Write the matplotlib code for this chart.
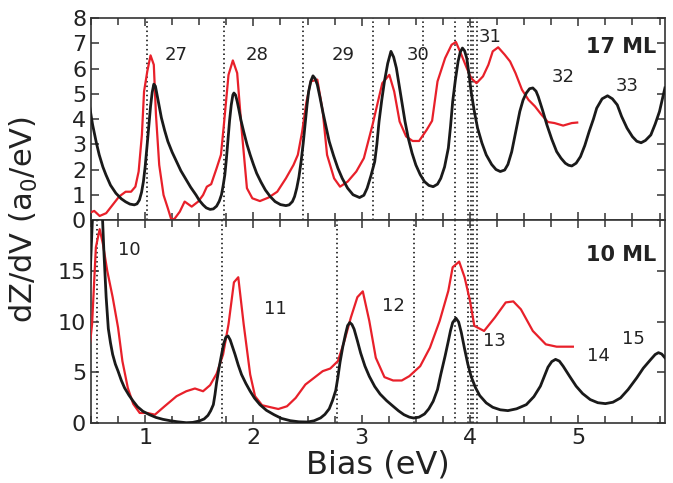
import matplotlib.pyplot as plt
import numpy as np

# 17 ML (top panel)
bias_17_calc = [0.48, 0.515, 0.55, 0.576, 0.61, 0.638, 0.68, 0.73, 0.78, 0.82, 0.86, 0.90, 0.925,
                0.947, 0.967, 0.984, 1.00, 1.017, 1.034, 1.05, 1.065, 1.08, 1.095, 1.11, 1.13,
                1.15, 1.18, 1.21, 1.25, 1.29, 1.33, 1.38, 1.42, 1.47, 1.50, 1.535, 1.565, 1.60,
                1.63, 1.66, 1.685, 1.705, 1.72, 1.736, 1.75, 1.765, 1.78, 1.795, 1.81, 1.82,
                1.835, 1.85, 1.863, 1.885, 1.91, 1.94, 1.97, 2.00, 2.03, 2.07, 2.11, 2.155,
                2.20, 2.25, 2.30, 2.33, 2.36, 2.38, 2.40, 2.42, 2.44, 2.46, 2.48, 2.495, 2.51,
                2.53, 2.55, 2.57, 2.59, 2.615, 2.64, 2.67, 2.70, 2.74, 2.78, 2.82, 2.87, 2.92,
                2.98, 3.02, 3.05, 3.085, 3.12, 3.14, 3.16, 3.185, 3.21, 3.24, 3.27, 3.295, 3.32,
                3.345, 3.37, 3.40, 3.43, 3.465, 3.50, 3.54, 3.58, 3.62, 3.66, 3.70, 3.73, 3.765,
                3.80, 3.82, 3.84, 3.865, 3.89, 3.91, 3.93, 3.95, 3.97, 3.99, 4.01, 4.04, 4.07,
                4.11, 4.15, 4.20, 4.24, 4.28, 4.32, 4.35, 4.385, 4.42, 4.46, 4.49, 4.52, 4.55,
                4.58, 4.61, 4.63, 4.67, 4.71, 4.755, 4.80, 4.84, 4.88, 4.91, 4.94, 4.98, 5.02,
                5.06, 5.10, 5.14, 5.17, 5.22, 5.27, 5.315, 5.36, 5.40, 5.45, 5.50, 5.54, 5.58,
                5.62, 5.67, 5.71, 5.75, 5.80]
dzdv_17_calc = [4.69, 3.77, 3.05, 2.58, 2.10, 1.79, 1.38, 1.06, 0.84, 0.72, 0.63, 0.60, 0.64,
                0.79, 1.10, 1.52, 2.10, 2.90, 3.75, 4.50, 5.05, 5.38, 5.30, 4.96, 4.50,
                4.05, 3.55, 3.11, 2.68, 2.31, 1.95, 1.59, 1.30, 0.99, 0.78, 0.60, 0.48, 0.42,
                0.44, 0.55, 0.75, 1.00, 1.35, 1.79, 2.40, 3.20, 3.95, 4.55, 4.95, 5.03,
                4.95, 4.70, 4.43, 3.95, 3.50, 3.00, 2.58, 2.20, 1.85, 1.50, 1.19, 0.93,
                0.73, 0.61, 0.57, 0.60, 0.73, 0.93, 1.26, 1.70, 2.31, 3.05, 3.90, 4.55, 5.09,
                5.50, 5.71, 5.60, 5.36, 4.85, 4.30, 3.70, 3.11, 2.55, 2.05, 1.65, 1.26, 1.00,
                0.89, 0.98, 1.26, 1.75, 2.31, 3.00, 3.90, 4.75, 5.49, 6.20, 6.68, 6.45, 6.02,
                5.35, 4.69, 3.90, 3.24, 2.65, 2.18, 1.80, 1.52, 1.37, 1.32, 1.42, 1.65, 2.10,
                2.85, 3.70, 4.69, 5.55, 6.28, 6.65, 6.81, 6.70, 6.41, 5.80, 5.09, 4.30, 3.64,
                3.05, 2.58, 2.20, 2.00, 1.92, 1.98, 2.20, 2.70, 3.45, 4.30, 4.75, 5.03, 5.20,
                5.23, 5.10, 4.89, 4.35, 3.77, 3.20, 2.71, 2.45, 2.25, 2.17, 2.14, 2.25, 2.51,
                2.95, 3.50, 4.00, 4.43, 4.80, 4.92, 4.80, 4.56, 4.10, 3.64, 3.30, 3.12, 3.06,
                3.15, 3.37, 3.80, 4.30, 5.23]

bias_17_exp = [0.48, 0.53, 0.58, 0.64, 0.70, 0.76, 0.82, 0.87, 0.91, 0.94, 0.97, 0.99, 1.02, 1.05,
               1.08, 1.10, 1.13, 1.17, 1.21, 1.24, 1.27, 1.32, 1.365, 1.43, 1.49, 1.535, 1.57,
               1.61, 1.66, 1.70, 1.73, 1.77, 1.81, 1.85, 1.89, 1.94, 1.99, 2.06, 2.14, 2.22,
               2.30, 2.37, 2.41, 2.45, 2.49, 2.53, 2.59, 2.64, 2.68, 2.745, 2.80, 2.87, 2.95,
               3.02, 3.10, 3.15, 3.19, 3.255, 3.30, 3.35, 3.41, 3.47, 3.53, 3.60, 3.65, 3.70,
               3.77, 3.83, 3.87, 3.92, 3.97, 4.01, 4.06, 4.12, 4.17, 4.21, 4.26, 4.32, 4.37,
               4.42, 4.48, 4.54, 4.60, 4.66, 4.72, 4.78, 4.86, 4.94, 4.99]
dzdv_17_exp = [0.27, 0.36, 0.16, 0.27, 0.60, 0.93, 1.12, 1.12, 1.32, 1.92, 3.37, 5.09, 5.89, 6.52,
               6.15, 4.17, 2.18, 0.99, 0.46, 0.04, 0.04, 0.33, 0.73, 0.53, 0.73, 0.99, 1.32,
               1.42, 2.05, 2.58, 3.90, 5.75, 6.32, 5.82, 3.64, 1.26, 0.86, 0.75, 0.89, 1.12,
               1.65, 2.18, 2.58, 3.50, 4.69, 5.49, 5.56, 4.30, 2.58, 1.65, 1.32, 1.52, 1.92,
               2.45, 3.77, 4.69, 5.42, 5.75, 5.09, 3.90, 3.31, 3.13, 3.13, 3.57, 3.93, 5.49,
               6.41, 6.94, 7.05, 6.55, 6.02, 5.62, 5.42, 5.69, 6.15, 6.68, 6.84, 6.55, 6.28,
               5.82, 5.16, 4.76, 4.50, 4.17, 3.88, 3.84, 3.74, 3.84, 3.86]

# 10 ML (bottom panel)
bias_10_calc = [0.48, 0.50, 0.515, 0.565, 0.605, 0.62, 0.64, 0.66, 0.68, 0.70, 0.725, 0.75, 0.78,
                0.81, 0.85, 0.89, 0.93, 0.98, 1.04, 1.10, 1.165, 1.23, 1.30, 1.38, 1.44, 1.50,
                1.545, 1.58, 1.605, 1.63, 1.645, 1.66, 1.68, 1.705, 1.725, 1.745, 1.765, 1.785,
                1.81, 1.83, 1.86, 1.89, 1.93, 1.97, 2.01, 2.06, 2.12, 2.19, 2.26, 2.34, 2.42,
                2.50, 2.56, 2.62, 2.66, 2.70, 2.73, 2.76, 2.78, 2.80, 2.825, 2.85, 2.87, 2.89,
                2.91, 2.93, 2.96, 2.99, 3.03, 3.07, 3.12, 3.17, 3.23, 3.29, 3.34, 3.39, 3.44,
                3.48, 3.53, 3.58, 3.62, 3.66, 3.70, 3.73, 3.77, 3.80, 3.82, 3.84, 3.87, 3.895,
                3.92, 3.95, 3.98, 4.01, 4.05, 4.09, 4.15, 4.21, 4.28, 4.35, 4.43, 4.52, 4.59,
                4.65, 4.69, 4.72, 4.755, 4.79, 4.825, 4.86, 4.92, 4.98, 5.04, 5.11, 5.18, 5.25,
                5.32, 5.39, 5.46, 5.54, 5.60, 5.67, 5.71, 5.74, 5.77, 5.80]
dzdv_10_calc = [11.4, 16.7, 20.5, 30.0, 20.5, 16.7, 12.4, 9.3, 7.9, 6.76, 5.8, 5.11, 4.2,
                3.46, 2.75, 2.14, 1.6, 1.15, 0.82, 0.55, 0.36, 0.23, 0.12, 0.03, 0.06, 0.2,
                0.4, 0.75, 1.2, 1.81, 2.8, 4.0, 5.3, 6.7, 7.8, 8.45, 8.58, 8.2,
                7.4, 6.76, 5.7, 4.78, 3.9, 3.13, 2.45, 1.81, 1.25, 0.82, 0.45, 0.23, 0.12,
                0.10, 0.22, 0.5, 0.85, 1.4, 2.2, 3.2, 4.5, 6.0, 7.5, 8.74, 9.6, 9.9,
                9.7, 9.24, 8.1, 6.9, 5.6, 4.6, 3.6, 2.85, 2.2, 1.65, 1.2, 0.82, 0.58,
                0.49, 0.58, 0.89, 1.4, 2.14, 3.3, 4.78, 6.6, 8.08, 9.1, 9.9, 10.33, 9.95,
                8.9, 7.3, 5.8, 4.6, 3.5, 2.7, 1.98, 1.55, 1.3, 1.22, 1.4, 1.81, 2.6,
                3.63, 4.7, 5.5, 6.05, 6.27, 6.1, 5.6, 4.6, 3.63, 2.9, 2.31, 2.0, 1.91,
                2.05, 2.47, 3.3, 4.45, 5.4, 6.27, 6.75, 6.93, 6.8, 6.43]

bias_10_exp = [0.48, 0.51, 0.545, 0.58, 0.61, 0.65, 0.70, 0.75, 0.79, 0.84, 0.89, 0.95, 1.02,
               1.09, 1.18, 1.29, 1.38, 1.46, 1.535, 1.60, 1.66, 1.72, 1.77, 1.82, 1.86, 1.91,
               1.97, 2.015, 2.08, 2.16, 2.23, 2.31, 2.39, 2.48, 2.56, 2.64, 2.71, 2.78, 2.84,
               2.90, 2.96, 3.01, 3.07, 3.13, 3.21, 3.29, 3.37, 3.44, 3.54, 3.63, 3.72, 3.80,
               3.84, 3.90, 3.95, 4.00, 4.04, 4.13, 4.23, 4.33, 4.40, 4.47, 4.58, 4.70, 4.80,
               4.95]
dzdv_10_exp = [6.76, 9.73, 17.3, 19.1, 17.65, 15.0, 12.4, 9.4, 6.1, 3.46, 1.88, 0.99, 0.99,
               0.82, 1.65, 2.64, 3.13, 3.40, 3.13, 3.73, 4.85, 6.76, 9.73, 13.86, 14.36, 9.73,
               4.78, 2.64, 1.75, 1.55, 1.38, 1.65, 2.47, 3.79, 4.45, 5.11, 5.37, 6.10, 8.08,
               10.4, 12.4, 12.97, 10.06, 6.43, 4.52, 4.19, 4.19, 4.62, 5.60, 7.42, 10.06, 13.03,
               15.35, 15.9, 14.36, 12.04, 9.57, 9.07, 10.4, 11.88, 11.98, 11.2, 9.07, 7.75, 7.52,
               7.52]

# dotted reference lines
vlines_17 = [1.02, 1.73, 2.46, 3.10, 3.57, 3.865, 3.98, 4.01, 4.03, 4.06]
vlines_10 = [0.56, 1.71, 2.77, 3.48, 3.865, 3.98, 4.01, 4.03, 4.06]

# peak labels
labels_17 = [('27', 1.29, 6.55), ('28', 2.03, 6.55), ('29', 2.83, 6.55), ('30', 3.52, 6.55),
             ('31', 4.19, 7.25), ('32', 4.86, 5.67), ('33', 5.45, 5.32)]
labels_10 = [('10', 0.85, 17.0), ('11', 2.20, 11.2), ('12', 3.29, 11.5), ('13', 4.23, 8.1),
             ('14', 5.19, 6.6), ('15', 5.51, 8.25)]

red = '#e8202a'
black = '#1a1a1a'

fig = plt.figure(figsize=(6.73, 4.83), dpi=100)
ax1 = fig.add_axes([0.1352, 0.5445, 0.8528, 0.4182])
ax2 = fig.add_axes([0.1352, 0.1242, 0.8528, 0.4203], sharex=ax1)

for ax, vl in [(ax1, vlines_17), (ax2, vlines_10)]:
    for v in vl:
        ax.axvline(v, color='black', lw=1.1, linestyle=(0, (1, 2)), zorder=1)

ax1.plot(bias_17_exp, dzdv_17_exp, color=red, lw=1.6, zorder=3)
ax1.plot(bias_17_calc, dzdv_17_calc, color=black, lw=2.0, zorder=4)
ax2.plot(bias_10_exp, dzdv_10_exp, color=red, lw=1.6, zorder=3)
ax2.plot(bias_10_calc, dzdv_10_calc, color=black, lw=2.0, zorder=4)

for t, x, y in labels_17:
    ax1.text(x, y, t, fontsize=13, ha='center', va='center', color='#222222')
for t, x, y in labels_10:
    ax2.text(x, y, t, fontsize=13, ha='center', va='center', color='#222222')
ax1.text(5.72, 6.87, '17 ML', fontsize=15, fontweight='bold', ha='right', va='center', color='#222222')
ax2.text(5.72, 16.6, '10 ML', fontsize=15, fontweight='bold', ha='right', va='center', color='#222222')

ax1.set_xlim(0.5, 5.8)
ax1.set_ylim(0, 8)
ax2.set_ylim(0, 20)
ax1.set_yticks(range(0, 9))
ax2.set_yticks([0, 5, 10, 15, 20])
ax2.set_yticklabels(['0', '5', '10', '15', ''])
ax1.set_xticks([1, 2, 3, 4, 5])
ax1.set_xticks(np.arange(0.5, 5.8, 0.25), minor=True)

for ax in (ax1, ax2):
    ax.tick_params(which='both', direction='in', top=True, right=True, labelsize=16,
                   width=1.1, colors='#333333', labelcolor='#222222')
    ax.tick_params(which='major', length=6)
    ax.tick_params(which='minor', length=5)
    for s in ax.spines.values():
        s.set_linewidth(1.2)
        s.set_color('#333333')
ax1.tick_params(labelbottom=False)

ax2.set_xlabel('Bias (eV)', fontsize=23, color='#222222', labelpad=1)
fig.text(0.035, 0.545, 'dZ/dV (a$_0$/eV)', rotation=90, fontsize=22, ha='center', va='center',
         color='#222222')

fig.savefig('out.png', dpi=100)
